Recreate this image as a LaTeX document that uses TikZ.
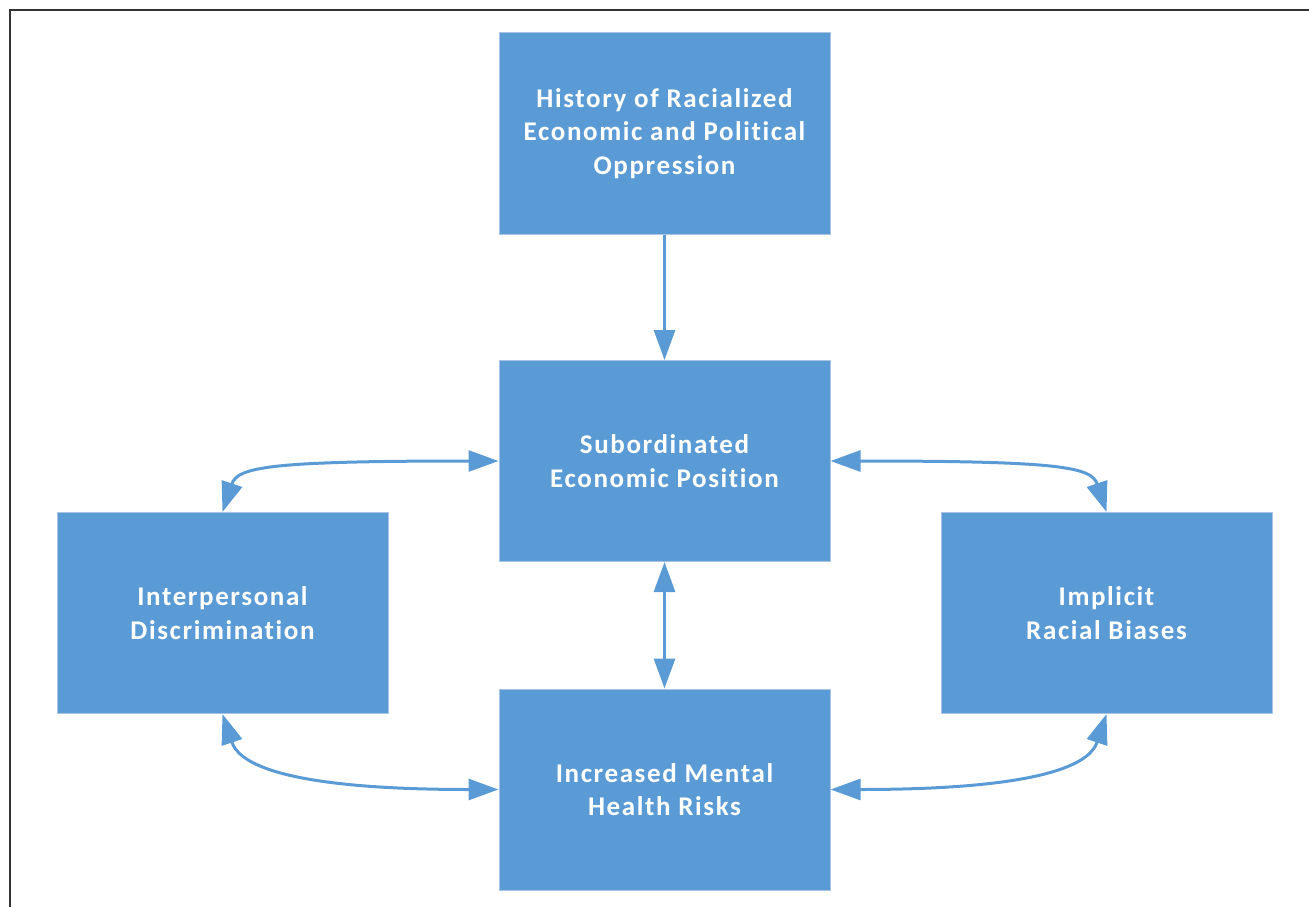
\documentclass[tikz,border=0pt]{standalone}
\usepackage{fontspec}
\setmainfont{Carlito}[LetterSpace=6, Ligatures=NoCommon]
\usetikzlibrary{arrows.meta}
\definecolor{boxblue}{HTML}{5B9BD5}
\definecolor{boxedge}{HTML}{A9C4E4}
\definecolor{framec}{HTML}{333333}
\tikzset{
  blk/.style={draw=boxedge, line width=1pt, fill=boxblue, minimum width=331pt, minimum height=201pt,
    inner sep=0pt, align=center, text=white, font=\fontsize{27}{33.5}\selectfont\bfseries},
  conn/.style={draw=boxblue, line width=3pt},
  tip/.style={-{Triangle[length=30pt,width=21pt]}},
  tips/.style={{Triangle[length=30pt,width=21pt]}-{Triangle[length=30pt,width=21pt]}}
}
\begin{document}
\begin{tikzpicture}[x=1pt,y=-1pt]
\useasboundingbox (0,0) rectangle (1309,907);
\draw[framec, line width=2pt] (9.5,907) coordinate (fa) -- (9.5,10.5) coordinate (fb) -- (1309,10.5) coordinate (fc);
\node[blk] (hist) at (664.5,133.5) {History of Racialized\\Economic and Political\\Oppression};
\node[blk] (sub) at (664.5,461) {Subordinated\\Economic Position};
\node[blk] (inter) at (222.5,613) {Interpersonal\\Discrimination};
\node[blk] (impl) at (1106.5,613) {Implicit\\Racial Biases};
\node[blk] (ment) at (664.5,789.5) {Increased Mental\\Health Risks};
\draw[conn,tip] (hist.south) -- (sub.north);
\draw[conn,tips] (sub.south) -- (ment.north);
\draw[conn,tips] (inter.north) .. controls +(15,-45) and +(-230,0) .. (sub.west);
\draw[conn,tips] (impl.north) .. controls +(-15,-45) and +(230,0) .. (sub.east);
\draw[conn,tips] (inter.south) .. controls +(15,45) and +(-230,0) .. (ment.west);
\draw[conn,tips] (impl.south) .. controls +(-15,45) and +(230,0) .. (ment.east);
\end{tikzpicture}
\end{document}
